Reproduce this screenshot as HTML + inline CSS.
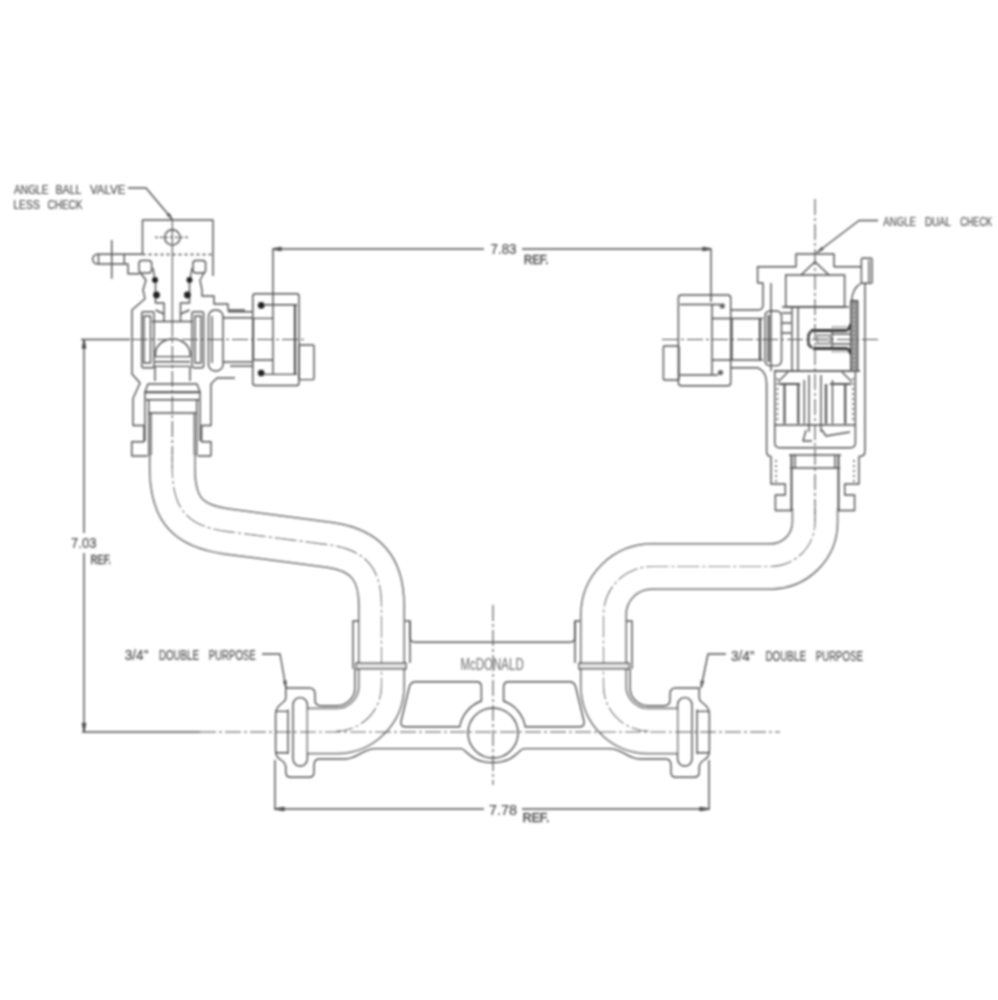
<!DOCTYPE html>
<html><head><meta charset="utf-8"><title>Meter Setter</title>
<style>
html,body{margin:0;padding:0;background:#fff;width:998px;height:1000px;overflow:hidden}
svg{display:block}
text{font-family:"Liberation Sans",sans-serif}
</style></head><body>
<svg width="998" height="1000" viewBox="0 0 998 1000">
<defs>
<filter id="b" filterUnits="userSpaceOnUse" x="0" y="0" width="998" height="1000"><feGaussianBlur stdDeviation="0.8"/></filter>
<filter id="tb" filterUnits="userSpaceOnUse" x="0" y="0" width="998" height="1000"><feGaussianBlur stdDeviation="0.7"/></filter>
</defs>
<g filter="url(#b)">
<g fill="none" stroke="#505050" stroke-width="1.4" stroke-linejoin="round" stroke-linecap="butt">

<!-- ===== DIMENSIONS ===== -->
<!-- top 7.83 -->
<path d="M273,249 H484 M522,249 H711"/>
<path d="M273,249 V300 M711,249 V302"/>
<path d="M273,249 l8,-1.6 v3.2 z M711,249 l-8,-1.6 v3.2 z" fill="#505050"/>
<!-- left 7.03 -->
<path d="M84,340 V533 M84,553 V731.5"/>
<path d="M81,339.5 H130 M82,732 H200"/>
<path d="M84,340 l-1.6,8 h3.2 z M84,731.5 l-1.6,-8 h3.2 z" fill="#505050"/>
<!-- bottom 7.78 -->
<path d="M275,809 H484 M522,809 H709"/>
<path d="M275,760 V809.7 M709,760 V809.7"/>
<path d="M275,809 l9,-1.5 v3 z M709,809 l-9,-1.5 v3 z" fill="#505050"/>

<!-- leaders -->
<path d="M128,188 H146 L172.5,219.5"/>
<path d="M878,220.5 H859 L817,252.5"/>
<path d="M262,654 H280 L286,688"/>
<path d="M726,654 H708 L701,688"/>
<path d="M172.5,219.5 L166.8,215.2 L169.2,213.1 Z M817.0,252.5 L821.6,247.0 L823.5,249.5 Z M286.0,688.0 L283.2,681.4 L286.4,680.8 Z M701.0,688.0 L700.8,680.8 L704.0,681.5 Z" fill="#555" stroke="#555" stroke-width="0.6"/>



<!-- ===== LEFT VALVE ===== -->
<!-- handle box -->
<path d="M142.5,254 V220 H213 V276"/>
<path d="M142.5,254.5 H213" stroke-dasharray="3 3"/>
<circle cx="172.3" cy="237.4" r="7.7"/>
<path d="M155,237.4 H189" stroke-dasharray="3 2"/>
<!-- stem -->
<path d="M142.5,254.2 H97.5 A4.9,4.9 0 0 0 97.5,264 H128 V273.8 H139.7"/>
<path d="M98.5,254.5 V263.7 M124.3,254.5 V263.7"/>
<path d="M111.7,240 V278.7"/>
<!-- ears -->
<rect x="139" y="260.5" width="12.6" height="12.5" rx="3"/>
<rect x="193" y="260.5" width="12.6" height="12.5" rx="3"/>
<!-- body outline left -->
<path d="M141,273.8 L146,280 L143,290 L145,298.7 L132,310 V374 L140,383 L133,398.5 V425.5 H144 V441.8 H131.8 V456 H147.5"/>
<!-- body outline right -->
<path d="M204,273 L200,280 L202,290 V296 H214 V304 H228 V310 H245"/>
<path d="M211,456 H198 M211,456 V441.8 H201.6 V425.5 H211 V384 L217,378 H235"/>
<!-- stem internals -->
<path d="M153,268 L155.5,282 V303 H164 V321.5 M192,268 L189.5,282 V303 H180.5 V321.5"/>
<path d="M155.5,310 L164,314 M189.5,310 L180.5,314"/>
<!-- o-rings -->
<g fill="#666" stroke="none"><circle cx="722.3" cy="305.9" r="2.6"/><circle cx="720.5" cy="372.6" r="2.6"/></g>
<g fill="#222" stroke="none">
<circle cx="155" cy="280" r="3"/><circle cx="156.5" cy="295" r="3.4"/>
<circle cx="189.5" cy="280" r="3"/><circle cx="187.4" cy="295" r="3.4"/>
<circle cx="261.2" cy="305.4" r="3.3"/><circle cx="261.2" cy="373.1" r="3.3"/>
</g>
<!-- ball & seats -->
<path d="M152,321.5 H193"/>
<path d="M155.4,357 V354 A17.3,15 0 0 1 190,354 V357"/>
<path d="M155,356.6 H190 M155,361.8 H190 M155,366.4 H190"/>
<rect x="141.7" y="311.7" width="12.3" height="56" rx="2"/>
<rect x="144" y="316" width="6.5" height="47"/>
<rect x="192" y="311.7" width="11.6" height="56" rx="2"/>
<rect x="195" y="316" width="6" height="47"/>
<path d="M155,366.4 V381 M190,366.4 V381"/>
<!-- tailpiece flange -->
<rect x="208.5" y="310" width="14.5" height="61" rx="6.5"/>
<path d="M212,316 V363"/>
<path d="M222.8,317.8 H253 M222.8,362 H253"/>
<path d="M228,311.7 H253 M230,366 H253"/>
<!-- nut -->
<rect x="252.8" y="293.7" width="46.2" height="91.8" rx="2.5"/>
<path d="M264,304.7 H297 M264,374.4 H297"/>
<path d="M295,304.7 V374.4" stroke-width="2.2"/>
<path d="M253.4,318.4 V360 M253.4,318.4 H273 M253.4,360 H273"/>
<path d="M273,300 V373.8"/>
<rect x="299" y="345" width="15" height="34.6" rx="1"/>
<!-- coupling below valve -->
<path d="M145,392 L148,384 H197 L200,392 Z"/>
<path d="M145,392.5 H200 M146,399.7 H199 M149,413 H196"/>
<path d="M145,392 V441 M200,392 V441"/>
<path d="M148.7,399.7 V456 M151,413 V456 M194.4,413 V456 M196.8,399.7 V456"/>

<!-- ===== RIGHT VALVE ===== -->
<!-- top cap -->
<path d="M757.6,283 V266.7 H796 V254 H834 V266.7 H861.4"/>
<rect x="861.4" y="258.3" width="10.6" height="25" rx="1"/>
<path d="M869,260 V282"/>
<path d="M801,275 L815,261.8 L829,275"/>
<rect x="785.7" y="275" width="58.9" height="31.7"/>
<path d="M757.6,283 H763 V305 Q763,310 758,310 H730.7"/>
<path d="M771,283 V371"/>
<path d="M865,283 V451 Q865,456.5 859,456.5 V484 H844.7 V495 H854.6 V510.5 H838"/>
<path d="M861.4,283 C854,287 852,294 851.5,301"/>
<!-- upper check module -->
<path d="M782,307 H849"/>
<path d="M851,301 H857.5 V371 H851 Z" fill="#a8a8a8" stroke="#505050" stroke-width="1.8"/>
<path d="M854.2,303 V369" stroke-dasharray="2 2.5" stroke="#666"/>
<path d="M774,371 H860" stroke="#666" stroke-width="1.8"/>
<path d="M792,307 V371 M798,307 V371"/>
<path d="M782,313 H791 M782,323 H791 M782,333 H791"/>
<!-- poppet -->
<path d="M811,330.5 H845 Q850,330.5 850.5,324 M813,348.5 H846 Q850,348.5 850.5,354" stroke="#3a3a3a" stroke-width="2.8"/>
<path d="M832,327 H849 M832,351.5 H849" stroke="#777" stroke-width="2" stroke-dasharray="1.5 1.5"/>
<path d="M811,331 L808.5,335 V344.5 L812,348" stroke="#4a4a4a" stroke-width="2.6"/>
<path d="M832,334 H850 M832,344 H850 M832,331 V348"/>
<rect x="817" y="335" width="13" height="9" fill="#d8d8d8" stroke="#888"/>
<!-- left flange of right valve -->
<rect x="765" y="311" width="16.5" height="54.6" rx="5"/>
<path d="M768.5,315 V362" stroke="#666" stroke-width="2.4"/>
<!-- lower body -->
<path d="M730.7,367.8 H758 C763,370 766.6,376 766.6,384 V451 Q766.6,456.5 771,456.5 V484 H785.3 V495 H775.4 V510.5 H792"/>
<!-- lower chamber -->
<path d="M774.8,371.4 V442.7 Q774.8,447.7 779.8,447.7 H850.4 Q855.4,447.7 855.4,442.7 V371.4"/>
<path d="M774.8,425 H855.4"/>
<path d="M784.5,384 V423.7 M798.3,384 V423.7 M826,384 V423.7 M845.2,384 V423.7" stroke="#555" stroke-width="2.2"/>
<path d="M804.3,380 V423.7 M832.5,380 V423.7"/>
<path d="M809,375 V432 M821,375 V432"/>
<path d="M779,384 H800 M830,384 H851" stroke="#555" stroke-width="2"/>
<path d="M778,382 L788,372 M852,382 L842,372"/>
<path d="M806,430 L803,441 H812 M822,430 L826,436 L850,432"/>
<path d="M777.5,378 V422 M853,378 V422" stroke-dasharray="2 3"/>
<!-- lower coupling -->
<path d="M789,455 H841"/>
<path d="M791.5,455 V511 M838.5,455 V511" stroke="#555" stroke-width="2"/>
<path d="M790,468 H840 M795,455 V468 M835,455 V468"/>
<path d="M776,460 V482 M854,460 V482" stroke-dasharray="2 3"/>
<!-- nut right valve -->
<rect x="678.4" y="295" width="52.3" height="90.8" rx="3"/>
<path d="M680,304.5 H720 M712,304.5 V375 M680,375 H718"/>
<path d="M712,318.5 H763 M712,360 H763 M732,318.5 V360"/>
<path d="M760,318.5 V360" stroke-width="2.2"/>
<rect x="663.4" y="346" width="15.6" height="34" rx="1"/>

<!-- ===== PIPES (outline via double stroke) ===== -->
</g>
<g fill="none" stroke-linejoin="round">
<path d="M172.3,456 V468 C172.3,512 190,526.6 228,531.6 L330,545 C369,550.5 381.5,572 381.5,606 V686 A45,45 0 0 1 336.5,731 H308" stroke="#505050" stroke-width="46.5"/>
<path d="M172.3,456 V468 C172.3,512 190,526.6 228,531.6 L330,545 C369,550.5 381.5,572 381.5,606 V686 A45,45 0 0 1 336.5,731 H308" stroke="#fff" stroke-width="43.5"/>
<path d="M815,508 V522 C815,547 795,566.5 770,566.5 H652 C625,566.5 603.5,588 603.5,615 V686 A45,45 0 0 0 648.5,731 H677" stroke="#505050" stroke-width="46.5"/>
<path d="M815,508 V522 C815,547 795,566.5 770,566.5 H652 C625,566.5 603.5,588 603.5,615 V686 A45,45 0 0 0 648.5,731 H677" stroke="#fff" stroke-width="43.5"/>
</g>
<g fill="none" stroke="#505050" stroke-width="1.1" stroke-dasharray="22 3 3 3">
<path d="M172.3,456 V468 C172.3,512 190,526.6 228,531.6 L330,545 C369,550.5 381.5,572 381.5,606 V686 A45,45 0 0 1 336.5,731"/>
<path d="M815,508 V522 C815,547 795,566.5 770,566.5 H652 C625,566.5 603.5,588 603.5,615 V686 A45,45 0 0 0 648.5,731"/>
</g>

<!-- ===== MANIFOLD ===== -->
<g fill="none" stroke="#505050" stroke-width="1.4" stroke-linejoin="round">
<g id="half">
<!-- sleeve -->
<path d="M359,621 H353 V669 M405,621 H410 V663"/>
<path d="M356,663 H406 V669 H356 Z" fill="#e2e2e2"/>
<!-- casting left -->
<path d="M355,669 V688 A18,18 0 0 1 337,705.7 H321 Q315,705.7 315,700 V694 Q315,688 309,688 H285.8"/>
<!-- top bar -->
<path d="M410,621 V637 Q410,642.2 415.5,642.2 H492.5"/>
<!-- window -->
<path d="M416,681.8 H476.5 Q481.4,681.8 481.4,687 V701 A33.3,33.3 0 0 0 459.7,726.8 H405.5 Q400.3,726.8 401,721.5 L409.3,687 Q410.5,681.8 416,681.8 Z"/>
<!-- bottom -->
<path d="M314,766 Q314,759 319,759 H345 C358,759 362,748.6 376,748.6 H461 C466,748.6 470,762.5 492.5,762.5"/>
<!-- outlet fitting -->
<path d="M285.8,688 V697.6 Q285.8,701 281,704 Q275.6,708.4 275.6,714 V751 Q275.6,757 281,760 Q285.8,763 285.8,768 V772 Q285.8,777.3 291,777.3 H309 Q314,777.3 314,772 V766"/>
<rect x="293" y="697.6" width="14.4" height="68.4" rx="7"/>
<path d="M288,709.6 V754 M275.6,711.4 H288 M275.6,752.8 H288"/>
</g>
<use href="#half" transform="translate(985,0) scale(-1,1)"/>
<circle cx="493" cy="733" r="25"/>
</g>

<!-- ===== CENTER LINES ===== -->
<g fill="none" stroke="#505050" stroke-dasharray="16 3 3 3" stroke-width="1.1">
<path d="M82,339.5 H307"/>
<path d="M662,339.5 H880"/>
<path d="M200,732 H780"/>
<path d="M172.3,321 V470"/>
<path d="M172.3,221 V321" stroke-dasharray="none"/>
<path d="M815,199 V520"/>
<path d="M493,605 V785"/>
</g>
</g>
<!-- ===== TEXT ===== -->
<g fill="#505050" stroke="#505050" stroke-width="0.2" filter="url(#b)">
<text x="14" y="194" font-size="13" textLength="34.6" lengthAdjust="spacingAndGlyphs">ANGLE</text>
<text x="55.5" y="194" font-size="13" textLength="26.0" lengthAdjust="spacingAndGlyphs">BALL</text>
<text x="90" y="194" font-size="13" textLength="35.5" lengthAdjust="spacingAndGlyphs">VALVE</text>
<text x="13.3" y="209" font-size="13" textLength="26.7" lengthAdjust="spacingAndGlyphs">LESS</text>
<text x="47.5" y="209" font-size="13" textLength="35.0" lengthAdjust="spacingAndGlyphs">CHECK</text>
<text x="883.3" y="225.7" font-size="13" textLength="32.7" lengthAdjust="spacingAndGlyphs">ANGLE</text>
<text x="925" y="225.7" font-size="13" textLength="26" lengthAdjust="spacingAndGlyphs">DUAL</text>
<text x="960.3" y="225.7" font-size="13" textLength="31.7" lengthAdjust="spacingAndGlyphs">CHECK</text>
<text x="124.8" y="660" font-size="14.5" textLength="23.7" lengthAdjust="spacingAndGlyphs">3/4&quot;</text>
<text x="159" y="660" font-size="14.5" textLength="40" lengthAdjust="spacingAndGlyphs">DOUBLE</text>
<text x="208.7" y="660" font-size="14.5" textLength="47.0" lengthAdjust="spacingAndGlyphs">PURPOSE</text>
<text x="731" y="660.6" font-size="14.5" textLength="23.6" lengthAdjust="spacingAndGlyphs">3/4&quot;</text>
<text x="765.4" y="660.6" font-size="14.5" textLength="40.6" lengthAdjust="spacingAndGlyphs">DOUBLE</text>
<text x="815.8" y="660.6" font-size="14.5" textLength="47.0" lengthAdjust="spacingAndGlyphs">PURPOSE</text>
<text x="460.5" y="670" font-size="16" textLength="63.2" lengthAdjust="spacingAndGlyphs" fill="#6a6a6a" stroke="none">McDONALD</text>
<text x="490.5" y="254" font-size="14" textLength="26.0" lengthAdjust="spacingAndGlyphs">7.83</text>
<text x="524" y="263.5" font-size="13" stroke-width="0.6" textLength="24.5" lengthAdjust="spacingAndGlyphs">REF.</text>
<text x="71" y="548" font-size="14" textLength="25.5" lengthAdjust="spacingAndGlyphs">7.03</text>
<text x="90.5" y="563.5" font-size="13" stroke-width="0.6" textLength="20.5" lengthAdjust="spacingAndGlyphs">REF.</text>
<text x="489" y="814.5" font-size="14" textLength="28" lengthAdjust="spacingAndGlyphs">7.78</text>
<text x="522.8" y="822" font-size="13" stroke-width="0.6" textLength="26.5" lengthAdjust="spacingAndGlyphs">REF.</text>
</g>
</svg>
</body></html>
